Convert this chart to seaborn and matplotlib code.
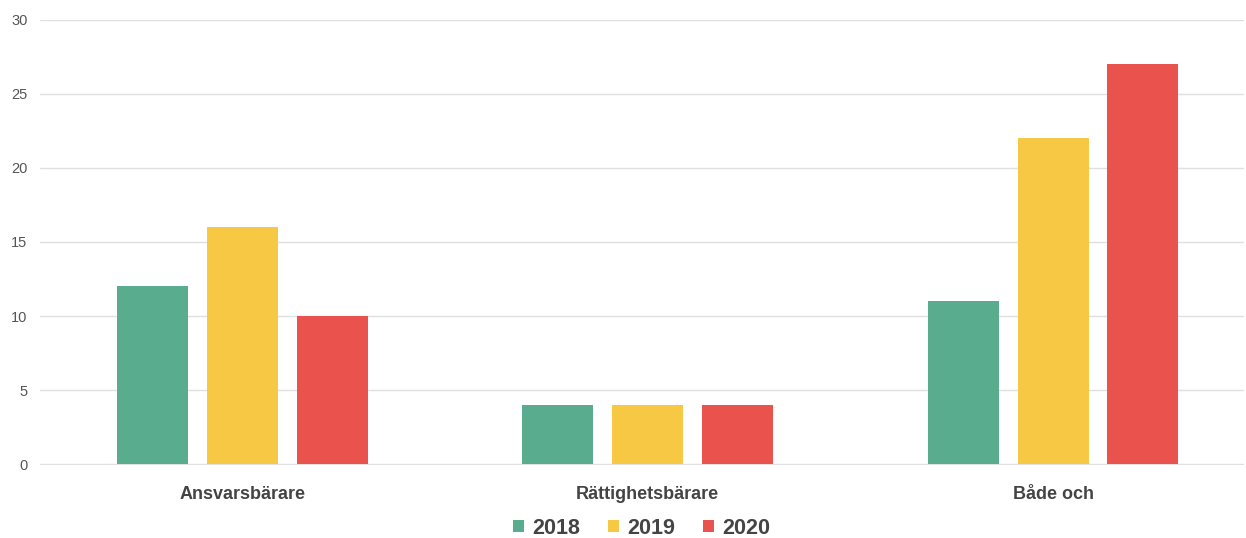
import seaborn as sns
import matplotlib.pyplot as plt
import pandas as pd

# data
kategorier = ['Ansvarsbärare', 'Rättighetsbärare', 'Både och']
ar = ['2018', '2019', '2020']
v2018 = [12, 4, 11]
v2019 = [16, 4, 22]
v2020 = [10, 4, 27]
farger = ['#5aac8e', '#f6c844', '#ea524d']

df = pd.DataFrame({
    'kategori': kategorier * 3,
    'ar': [ar[0]] * 3 + [ar[1]] * 3 + [ar[2]] * 3,
    'antal': v2018 + v2019 + v2020,
})

sns.set_style('white')
plt.rcParams['font.family'] = ['Liberation Sans', 'DejaVu Sans']

fig = plt.figure(figsize=(12.46, 5.38), dpi=100)
ax = fig.add_axes([0.032, 0.136, 0.966, 0.827])
sns.barplot(data=df, x='kategori', y='antal', hue='ar', palette=farger,
            width=0.665, gap=0.21, saturation=1, linewidth=0, ax=ax, legend=True)

ax.set_ylim(-0.05, 30)
ax.set_xlim(-0.5, 2.47)
ax.set_yticks(range(0, 31, 5))
ax.yaxis.grid(True, color='#e0e0e0', linewidth=1)
ax.set_axisbelow(True)
for s in ax.spines.values():
    s.set_visible(False)
ax.set_xlabel('')
ax.set_ylabel('')
ax.tick_params(axis='y', length=0, labelsize=10.5, labelcolor='#555555', pad=9)
ax.tick_params(axis='x', length=0, labelsize=13, labelcolor='#444444', pad=15)
for t in ax.get_xticklabels():
    t.set_fontweight('bold')

ax.legend(loc='lower center', bbox_to_anchor=(0.5, -0.195), ncol=3, frameon=False,
          handlelength=0.5, handleheight=0.5, handletextpad=0.4, columnspacing=1.3,
          prop={'size': 15.5, 'weight': 'bold'}, labelcolor='#444444',
          borderpad=0.1)

fig.savefig('out.png', dpi=100)
